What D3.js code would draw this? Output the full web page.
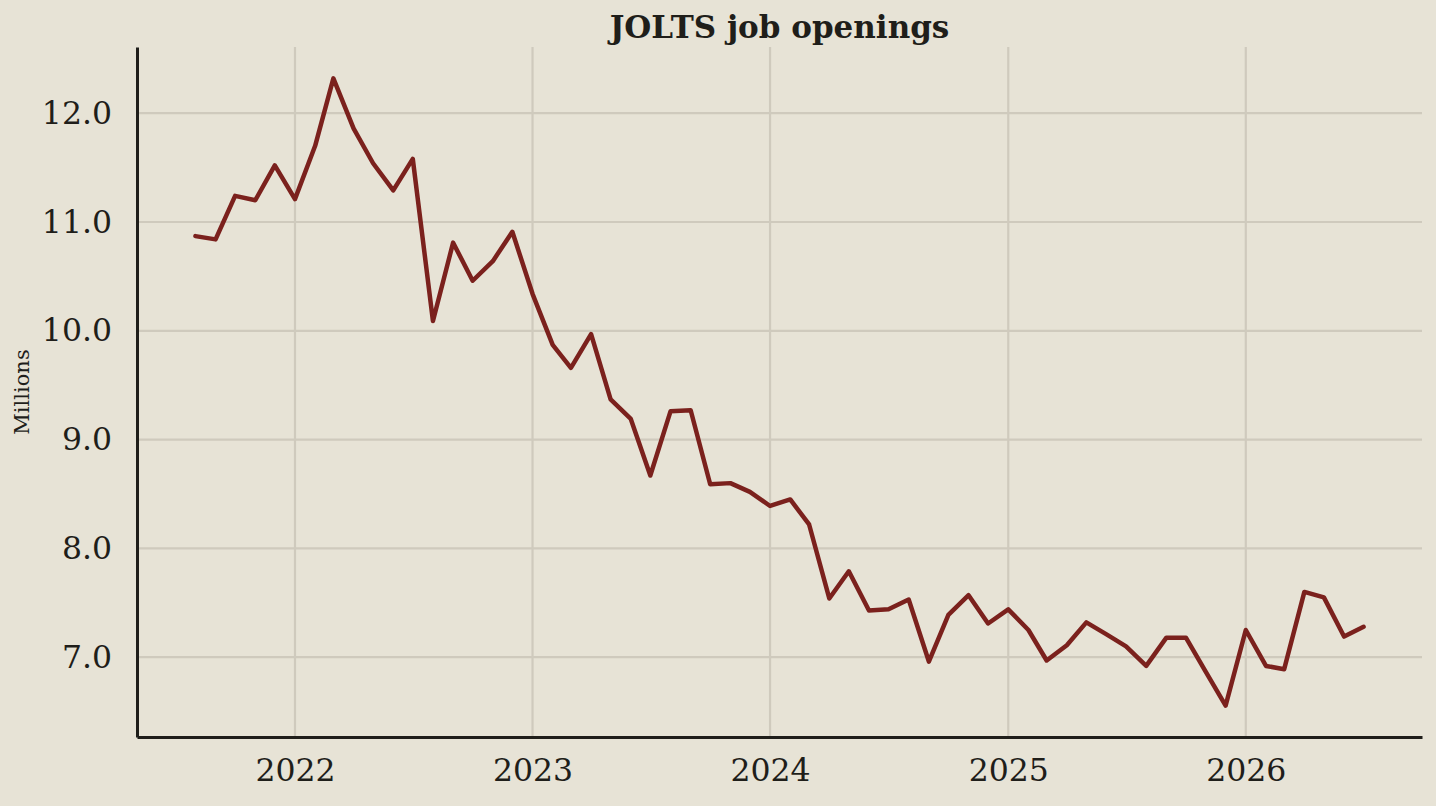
<!DOCTYPE html>
<html>
<head>
<meta charset="utf-8">
<script src="https://cdn.jsdelivr.net/npm/d3@7"></script>
<style>
  html, body { margin: 0; padding: 0; background: #e7e3d6; }
  svg { display: block; }
  text { font-family: "DejaVu Serif", serif; fill: #1f1e1a; }
</style>
</head>
<body>
<svg id="chart"></svg>
<script>
// monthly JOLTS job openings, millions
const startMonth = "2021-08";
const openings = [
  10.87, 10.84, 11.24, 11.20, 11.52,                                     // 2021 Aug-Dec
  11.21, 11.70, 12.32, 11.86, 11.54, 11.29, 11.58, 10.09, 10.81, 10.46, 10.64, 10.91, // 2022
  10.34, 9.87, 9.66, 9.97, 9.37, 9.19, 8.67, 9.26, 9.27, 8.59, 8.60, 8.52,           // 2023
  8.39, 8.45, 8.22, 7.54, 7.79, 7.43, 7.44, 7.53, 6.96, 7.39, 7.57, 7.31,            // 2024
  7.44, 7.25, 6.97, 7.11, 7.32, 7.21, 7.10, 6.92, 7.18, 7.18, 6.86, 6.555,           // 2025
  7.25, 6.92, 6.89, 7.60, 7.55, 7.19, 7.28                                           // 2026 Jan-Jul
];
const yTicks = [7, 8, 9, 10, 11, 12];
const xTickYears = [2022, 2023, 2024, 2025, 2026];
const title = "JOLTS job openings";
const yLabel = "Millions";

const width = 1436, height = 806;
const margin = { top: 47, right: 14, bottom: 69, left: 137 };

const parse = d3.timeParse("%Y-%m");
const t0 = parse(startMonth);
const data = openings.map((v, i) => ({ date: d3.timeMonth.offset(t0, i), value: v }));

const svg = d3.select("#chart").attr("width", width).attr("height", height);

// matplotlib-like 5% padding on both axes
const xExt = d3.extent(data, d => d.date);
const xPad = (xExt[1] - xExt[0]) * 0.05;
const x = d3.scaleTime()
  .domain([new Date(+xExt[0] - xPad), new Date(+xExt[1] + xPad)])
  .range([margin.left, width - margin.right]);

const yExt = d3.extent(data, d => d.value);
const yPad = (yExt[1] - yExt[0]) * 0.05;
const y = d3.scaleLinear()
  .domain([yExt[0] - yPad, yExt[1] + yPad])
  .range([height - margin.bottom, margin.top]);

const xTicks = xTickYears.map(yr => new Date(yr, 0, 1));

// grid
const grid = svg.append("g").attr("stroke", "#cfcabd").attr("stroke-width", 2.2);
grid.selectAll("line.h").data(yTicks).join("line")
  .attr("x1", margin.left).attr("x2", width - margin.right)
  .attr("y1", d => y(d)).attr("y2", d => y(d));
grid.selectAll("line.v").data(xTicks).join("line")
  .attr("x1", d => x(d)).attr("x2", d => x(d))
  .attr("y1", margin.top).attr("y2", height - margin.bottom);

// axes
const xAxis = svg.append("g")
  .attr("transform", `translate(0,${height - margin.bottom})`)
  .call(d3.axisBottom(x).tickValues(xTicks).tickFormat(d3.timeFormat("%Y")).tickSize(0).tickPadding(15));
const yAxis = svg.append("g")
  .attr("transform", `translate(${margin.left},0)`)
  .call(d3.axisLeft(y).tickValues(yTicks).tickFormat(d3.format(".1f")).tickSize(0).tickPadding(25));

[xAxis, yAxis].forEach(g => {
  g.select(".domain").attr("stroke", "#1f1e1a").attr("stroke-width", 3);
  g.selectAll("text").attr("font-family", "DejaVu Serif").attr("font-size", 31.5).attr("fill", "#1f1e1a");
});
xAxis.selectAll("text").attr("dy", "0.93em");

// line
svg.append("path")
  .datum(data)
  .attr("fill", "none")
  .attr("stroke", "#7b211d")
  .attr("stroke-width", 4.5)
  .attr("stroke-linejoin", "round")
  .attr("stroke-linecap", "round")
  .attr("d", d3.line().x(d => x(d.date)).y(d => y(d.value)));

// title and label
svg.append("text")
  .attr("x", (margin.left + width - margin.right) / 2)
  .attr("y", 38)
  .attr("text-anchor", "middle")
  .attr("font-size", 31)
  .attr("font-weight", "bold")
  .text(title);

svg.append("text")
  .attr("transform", `translate(29,${(margin.top + height - margin.bottom) / 2}) rotate(-90)`)
  .attr("text-anchor", "middle")
  .attr("font-size", 21)
  .text(yLabel);
</script>
</body>
</html>
